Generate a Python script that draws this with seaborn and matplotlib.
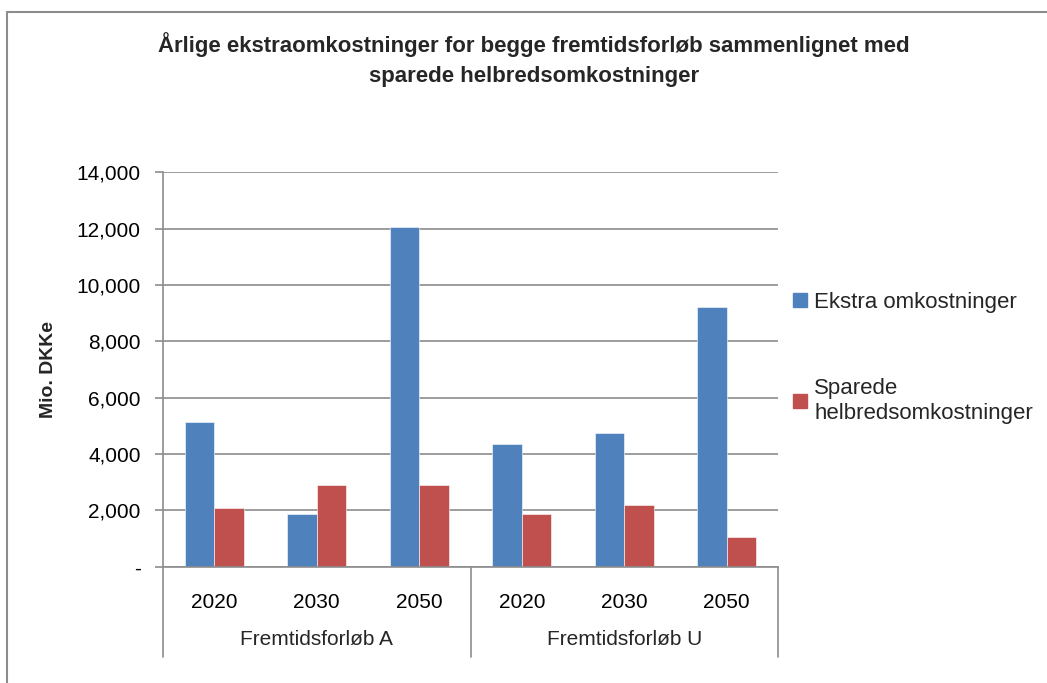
import matplotlib.pyplot as plt
import pandas as pd
import seaborn as sns
from matplotlib.lines import Line2D
from matplotlib.ticker import FuncFormatter

# Data
scenarios = ["Fremtidsforløb A", "Fremtidsforløb U"]
years = ["2020", "2030", "2050"]
series = ["Ekstra omkostninger", "Sparede helbredsomkostninger"]
ekstra = [5150, 1880, 12050, 4360, 4750, 9220]
sparede = [2100, 2890, 2890, 1880, 2200, 1070]

colors = ["#4F81BD", "#C0504D"]


def build_frame():
    keys = [f"{s[-1]} {y}" for s in scenarios for y in years]
    rows = []
    for name, values in zip(series, [ekstra, sparede]):
        for k, v in zip(keys, values):
            rows.append({"key": k, "serie": name, "value": v})
    return pd.DataFrame(rows), keys


def fmt_thousands(v, pos):
    if v == 0:
        return "-"
    return f"{int(v):,}"


def main():
    df, keys = build_frame()

    sns.set_theme(style="white")
    plt.rcParams["font.family"] = ["Liberation Sans", "DejaVu Sans"]

    fig = plt.figure(figsize=(10.47, 6.83), dpi=100)
    ax = fig.add_axes([0.1557, 0.170, 0.5874, 0.578])

    sns.barplot(
        data=df,
        x="key",
        y="value",
        hue="serie",
        order=keys,
        hue_order=series,
        palette=colors,
        saturation=1,
        width=2 / 3.5,
        gap=0,
        edgecolor="white",
        linewidth=0.4,
        ax=ax,
    )

    ax.set_ylim(0, 14000)
    ax.set_yticks(range(0, 14001, 2000))
    ax.yaxis.set_major_formatter(FuncFormatter(fmt_thousands))
    ax.yaxis.grid(True, color="#8c8c8c", linewidth=1.2)
    ax.set_axisbelow(True)
    ax.set_xlim(-0.5, len(keys) - 0.5)

    for side in ["top", "right"]:
        ax.spines[side].set_visible(False)
    ax.spines["left"].set_color("#8c8c8c")
    ax.spines["bottom"].set_color("#8c8c8c")
    ax.spines["left"].set_linewidth(1.2)
    ax.spines["bottom"].set_linewidth(1.2)

    ax.tick_params(axis="y", left=True, length=6, width=1.2, color="#8c8c8c",
                   labelsize=15, pad=10, labelcolor="black")
    ax.tick_params(axis="x", bottom=False, labelsize=15, pad=13, labelcolor="black")
    ax.set_xticks(range(len(keys)))
    ax.set_xticklabels(years * len(scenarios))

    ax.set_xlabel("")
    ax.set_ylabel("Mio. DKKe", fontsize=14, fontweight="bold", labelpad=14)

    # second level of category labels with separators
    for i, s in enumerate(scenarios):
        ax.text(1 + 3 * i, -0.185, s, transform=ax.get_xaxis_transform(),
                ha="center", va="center", fontsize=15)
    for xb in [-0.5, 2.5, 5.5]:
        ax.add_line(Line2D([xb, xb], [0, -0.228], transform=ax.get_xaxis_transform(),
                           color="#8c8c8c", linewidth=1.2, clip_on=False))

    ax.legend_.remove()
    handles = [plt.Rectangle((0, 0), 1, 1, color=c) for c in colors]
    fig.legend(
        handles,
        ["Ekstra omkostninger", "Sparede\nhelbredsomkostninger"],
        loc="upper left",
        bbox_to_anchor=(0.7385, 0.602),
        frameon=False,
        fontsize=16,
        handlelength=0.6,
        handleheight=0.6,
        handletextpad=0.35,
        labelspacing=2.95,
    )

    fig.text(0.51, 0.935, "Årlige ekstraomkostninger for begge fremtidsforløb sammenlignet med",
             ha="center", va="center", fontsize=16, fontweight="bold")
    fig.text(0.51, 0.888, "sparede helbredsomkostninger",
             ha="center", va="center", fontsize=16, fontweight="bold")

    # chart frame (only top and left edges visible in the crop)
    fig.add_artist(Line2D([0.0067, 1.0], [0.983, 0.983], transform=fig.transFigure,
                          color="#8c8c8c", linewidth=1.5))
    fig.add_artist(Line2D([0.0067, 0.0067], [0.0, 0.983], transform=fig.transFigure,
                          color="#8c8c8c", linewidth=1.5))

    fig.savefig("out.png", dpi=100, facecolor="white")


if __name__ == "__main__":
    main()
